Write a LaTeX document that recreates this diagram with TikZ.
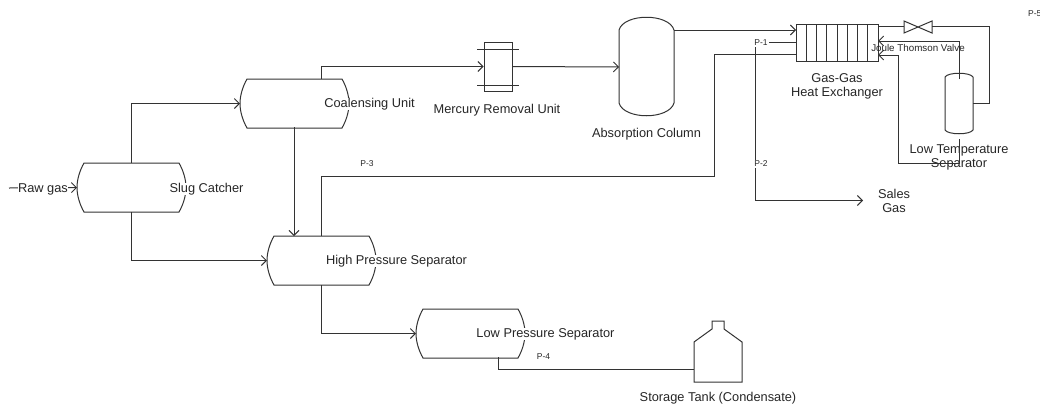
\documentclass[tikz,border=0pt]{standalone}
\usepackage{fontspec}
\setmainfont{Liberation Sans}
\usetikzlibrary{arrows.meta}
\definecolor{ln}{gray}{0.2}
\tikzset{
  x=1pt,y=-1pt,
  vessel/.style={draw=ln,line width=1pt,fill=white},
  pipe/.style={draw=ln,line width=1pt},
  flow/.style={pipe,-{Straight Barb[length=5pt,width=10pt,line width=0.9pt]}},
  lab/.style={yshift=-1pt,font=\fontsize{12.8}{14}\selectfont,text=black!85,inner sep=0.5pt,fill=white,align=center},
  tag/.style={yshift=-1pt,font=\fontsize{8.5}{10}\selectfont,text=black!85,inner sep=1pt,fill=white},
  tagnf/.style={yshift=-1pt,font=\fontsize{8.5}{10}\selectfont,text=black!85,inner sep=1pt},
  plain/.style={yshift=-1pt,font=\fontsize{12.8}{14}\selectfont,text=black!85,inner sep=0pt,align=center},
}
\newcommand{\hvessel}[3]{% name, left, top
  \draw[vessel] (#2+7,#3) -- (#2+102,#3) .. controls (#2+106,#3+7) and (#2+109,#3+16) .. (#2+109,#3+24.5)
    .. controls (#2+109,#3+33) and (#2+106,#3+42) .. (#2+102,#3+49) -- (#2+7,#3+49)
    .. controls (#2+3,#3+42) and (#2,#3+33) .. (#2,#3+24.5) .. controls (#2,#3+16) and (#2+3,#3+7) .. (#2+7,#3) -- cycle;
  \coordinate (#1w) at (#2,#3+24.5);
}
\begin{document}
\begin{tikzpicture}
\useasboundingbox (0,0) rectangle (1040,405);
% vessels
\hvessel{sc}{77}{163}
\hvessel{cu}{240}{79}
\hvessel{hp}{267}{236}
\hvessel{lp}{416}{309}
% absorption column
\draw[vessel] (619,30) .. controls (624,13) and (669,13) .. (674,30) -- (674,103)
  .. controls (669,120) and (624,120) .. (619,103) -- cycle;
\coordinate (abW) at (619,67); \coordinate (abE) at (674,30);
% low temperature separator
\draw[vessel] (945,77) .. controls (948,72) and (970,72) .. (973,77) -- (973,130)
  .. controls (970,135) and (948,135) .. (945,130) -- cycle;
\coordinate (ltE) at (973,103); \coordinate (ltT) at (959,79); \coordinate (ltB) at (959,139);
% mercury unit
\node[draw=ln,line width=1pt,minimum width=28pt,minimum height=49pt,inner sep=0pt] (hg) at (498,66.5) {};
\draw[pipe] (477,49) -- (519,49) (477,85) -- (519,85);
% exchanger
\node[draw=ln,line width=1pt,minimum width=82pt,minimum height=37pt,inner sep=0pt] (hx) at (837,42.5) {};
\foreach \i in {1,...,7} \draw[pipe] (796+\i*10.25,24) -- (796+\i*10.25,61);
% tank
\draw[vessel] (694,382) -- (694,342) -- (712,329) -- (712,321) -- (724,321) -- (724,329) -- (742,342) -- (742,382) -- cycle;
\coordinate (tkW) at (694,369.5);
% valve
\coordinate (vW) at (904,26.5); \coordinate (vE) at (932,26.5);
\draw[pipe] (vW) -- (904,21) -- (932,33) -- (932,21) -- (904,33) -- (vW);
% labels
\node[lab] (l1) at (206.5,188) {Slug Catcher};
\node[lab] (l2) at (369.5,103) {Coalensing Unit};
\node[lab] (l3) at (396.5,260) {High Pressure Separator};
\node[lab] (l4) at (545.5,333) {Low Pressure Separator};
\node[plain] (l5) at (497,109) {Mercury Removal Unit};
\node[plain] (l6) at (646.5,133) {Absorption Column};
\node[plain] (l7) at (837,85) {Gas-Gas\\Heat Exchanger};
\node[plain] (l9) at (959,156) {Low Temperature\\Separator};
\node[plain] (l10) at (894,200) {Sales\\Gas};
\node[plain] (l11) at (718,397) {Storage Tank (Condensate)};
% connectors
\coordinate (in) at (9,188);
\draw[flow] (in) -- (scw);
\node[lab] (l0) at (43,188) {Raw gas};
\draw[flow] (131,163) |- (cuw);
\draw[flow] (131,212) |- (hpw);
\draw[flow] (294,127) -- (294,236);
\draw[flow] (321,79) |- (hg.west);
\draw[flow] (hg.east) -- (abW);
\draw[flow] (abE) -- (796,30);
\draw[pipe] (321,236) |- (714,176) |- (796,54.5);
\draw[flow] (321,285) |- (lpw);
\draw[pipe] (498,357) |- (tkW);
\draw[pipe] (878,26.5) -- (vW);
\draw[pipe] (vE) -| (989,103) -- (ltE);
\draw[flow] (ltT) |- (878,41);
\draw[flow] (ltB) |- (898,163) |- (878,55);
\draw[pipe] (755.7,42) -- (796,42);
\draw[flow] (755.7,42) |- (863,200.5);
% pipe tags
\node[tag] (p1) at (761,42) {P-1};
\node[tag] (p2) at (761,163) {P-2};
\node[tagnf] (p3) at (367,163) {P-3};
\node[tagnf] (p4) at (543.5,356) {P-4};
\node[tagnf,anchor=west] (p5) at (1027,13) {P-5};
\node[yshift=-1pt,font=\fontsize{9.8}{11}\selectfont,text=black!85,inner sep=0pt] (jt) at (918,47) {Joule Thomson Valve};
\end{tikzpicture}
\end{document}
